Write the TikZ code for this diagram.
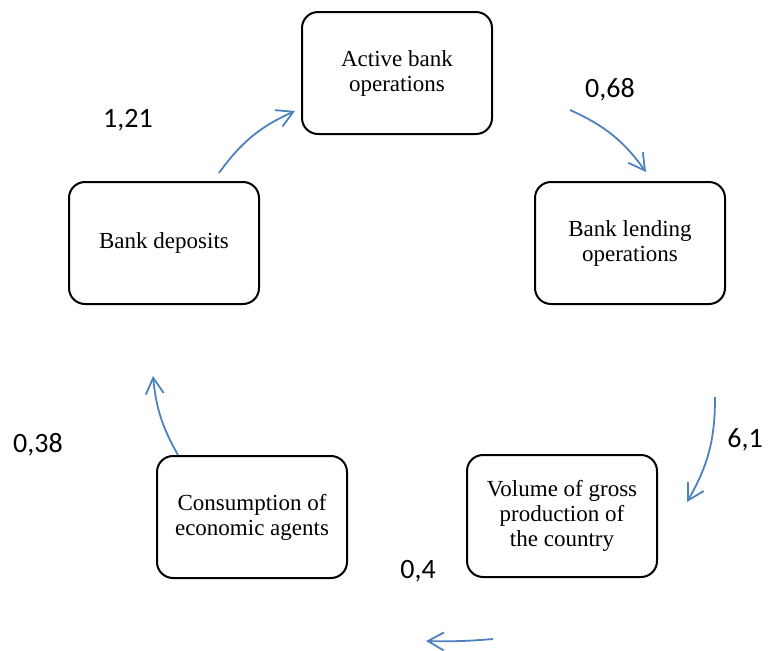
\documentclass[tikz,border=0pt]{standalone}
\usepackage{fontspec}
\setmainfont{Liberation Serif}
\newfontfamily\numfont{Carlito}
\usetikzlibrary{arrows.meta}
\definecolor{flowblue}{HTML}{4F81BD}

\begin{document}
\begin{tikzpicture}[x=0.5pt, y=-0.5pt,
    box/.style={draw, line width=1pt, rounded corners=8pt, minimum width=95pt, minimum height=61pt,
        align=center, font=\fontsize{11.5}{12.5}\selectfont, inner sep=2pt},
    coef/.style={font=\numfont\fontsize{14}{16}\selectfont},
    flow/.style={flowblue, line width=0.9pt, -{Straight Barb[length=8pt, width=9pt, line width=0.9pt]}}]

    \useasboundingbox (0, 0) rectangle (770, 650);

    % blocks
    \node [box] (act) at (397, 73) {Active bank\\operations};
    \node [box] (lend) at (630, 243) {Bank lending\\operations};
    \node [box] (gross) at (562, 516) {Volume of gross\\production of\\the country};
    \node [box] (cons) at (252, 517) {Consumption of\\economic agents};
    \node [box] (dep) at (164, 243) {Bank deposits};

    % coefficients
    \node [coef] (k1) at (128, 120) {1,21};
    \node [coef] (k2) at (610, 90) {0,68};
    \node [coef] (k3) at (745, 440) {6,1};
    \node [coef] (k4) at (418, 571) {0,4};
    \node [coef] (k5) at (38, 445) {0,38};

    % arrow ends
    \coordinate (a1) at (219, 173);
    \coordinate (b1) at (295, 111);
    \coordinate (a2) at (570, 110);
    \coordinate (b2) at (646, 172);
    \coordinate (a3) at (715, 397);
    \coordinate (b3) at (687, 502);
    \coordinate (a4) at (493, 639);
    \coordinate (b4) at (426, 641);
    \coordinate (a5) at (178, 455);
    \coordinate (b5) at (153, 376);

    \draw [flow] (a1) to[bend left=15] (b1);
    \draw [flow] (a2) to[bend left=15] (b2);
    \draw [flow] (a3) to[bend left=15] (b3);
    \draw [flow] (a4) to[bend left=3] (b4);
    \draw [flow] (a5) to[bend left=12] (b5);

\end{tikzpicture}
\end{document}
